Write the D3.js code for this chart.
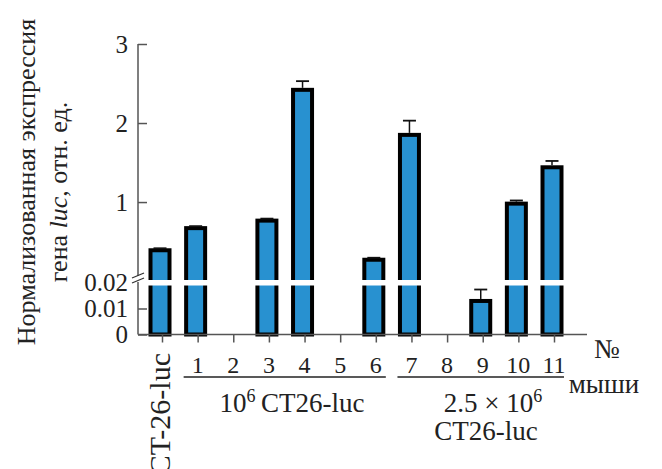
<!DOCTYPE html>
<html>
<head>
<meta charset="utf-8">
<script src="https://cdn.jsdelivr.net/npm/d3@7"></script>
<style>
body { margin: 0; background: #fff; }
text { font-family: "Liberation Serif", "DejaVu Serif", serif; fill: #222; }
</style>
</head>
<body>
<script>
// data
var categories = ["CT-26-luc", "1", "2", "3", "4", "5", "6", "7", "8", "9", "10", "11"];
var values = [0.39, 0.67, 0, 0.765, 2.42, 0, 0.27, 1.85, 0, 0.0129, 0.98, 1.44];
var errors = [0.02, 0.015, 0, 0.012, 0.11, 0, 0.02, 0.18, 0, 0.0044, 0.04, 0.08];
var upperTicks = [1, 2, 3];
var lowerTicks = [0, 0.01, 0.02];
var groups = [
  {first: "1", last: "6"},
  {first: "7", last: "11"}
];

var W = 662, H = 469;
var svg = d3.select("body").append("svg")
  .attr("width", W)
  .attr("height", H);

var axisX = 138, baseY = 334.5, axisRight = 587;
var breakTop = 279.5, breakBottom = 285.5;

// x: one point per mouse
var x = d3.scalePoint()
  .domain(categories)
  .range([162, 554]);

// broken y: two linear pieces
var yUpper = d3.scaleLinear().domain([0.02, 3]).range([breakTop, 44]);
var yLower = d3.scaleLinear().domain([0, 0.02]).range([baseY, 282.5]);
function y(v) {
  return v > 0.02 ? yUpper(v) : yLower(v);
}

var barW = 19;
var barShift = -2; // bars sit a touch left of their ticks

// bars
var bars = svg.append("g").attr("id", "bars");
categories.forEach(function(c, i) {
  if (values[i] <= 0) return;
  var cx = x(c) + barShift;
  bars.append("rect")
    .attr("x", cx - barW / 2)
    .attr("y", y(values[i]))
    .attr("width", barW)
    .attr("height", baseY - y(values[i]))
    .style("fill", "#2891d0")
    .style("stroke", "#000")
    .style("stroke-width", 4);
  // error bar (upper only)
  var top = y(values[i] + errors[i]);
  var bt = y(values[i]) - 2;
  if (bt - top > 0.5) {
    bars.append("line")
      .attr("x1", cx).attr("x2", cx)
      .attr("y1", bt).attr("y2", top)
      .style("stroke", "#111").style("stroke-width", 1.5);
  }
  bars.append("line")
    .attr("x1", cx - 6.5).attr("x2", cx + 6.5)
    .attr("y1", Math.min(top, bt)).attr("y2", Math.min(top, bt))
    .style("stroke", "#111").style("stroke-width", 1.8);
});

// white gap for the axis break
svg.append("rect")
  .attr("x", axisX + 1)
  .attr("y", breakTop + 0.5)
  .attr("width", axisRight - axisX)
  .attr("height", breakBottom - breakTop - 0.5)
  .style("fill", "#fff");

// y axes
var gUp = svg.append("g")
  .attr("transform", "translate(" + axisX + ",0)")
  .call(d3.axisLeft(yUpper).tickValues(upperTicks).tickFormat(d3.format("d"))
    .tickSizeInner(-9).tickSizeOuter(0).tickPadding(10));
var gLow = svg.append("g")
  .attr("transform", "translate(" + axisX + ",0)")
  .call(d3.axisLeft(yLower).tickValues(lowerTicks).tickFormat(function(d) { return d === 0 ? "0" : d3.format(".2f")(d); })
    .tickSizeInner(-9).tickSizeOuter(0).tickPadding(10));
[gUp, gLow].forEach(function(g) {
  g.select(".domain").remove();
  g.selectAll(".tick line").style("stroke", "#555").style("stroke-width", 1.5);
  g.selectAll(".tick text")
    .style("font-family", "Liberation Serif")
    .style("font-size", "25px")
    .style("fill", "#222");
});
gLow.selectAll(".tick").filter(function(d) { return d === 0.02; }).select("line").remove();

svg.append("line")
  .attr("x1", axisX).attr("x2", axisX)
  .attr("y1", 44).attr("y2", baseY)
  .style("stroke", "#555").style("stroke-width", 1.5);

// break marks
svg.append("rect")
  .attr("x", axisX - 5).attr("y", 276)
  .attr("width", 10).attr("height", 6)
  .style("fill", "#fff");
[0, 5].forEach(function(dy) {
  svg.append("line")
    .attr("x1", axisX - 6).attr("y1", 278 + dy)
    .attr("x2", axisX + 6).attr("y2", 273 + dy)
    .style("stroke", "#333").style("stroke-width", 1.3);
});

// x axis
var gx = svg.append("g")
  .attr("transform", "translate(0," + baseY + ")")
  .call(d3.axisBottom(x).tickFormat("").tickSizeInner(8).tickSizeOuter(0));
gx.select(".domain").remove();
gx.selectAll(".tick line").style("stroke", "#555").style("stroke-width", 1.5);
svg.append("line")
  .attr("x1", axisX).attr("x2", axisRight)
  .attr("y1", baseY).attr("y2", baseY)
  .style("stroke", "#555").style("stroke-width", 1.5);

// x labels
categories.forEach(function(c, i) {
  if (i === 0) {
    svg.append("text")
      .attr("transform", "translate(" + (x(c) + 8) + ",353) rotate(-90)")
      .attr("text-anchor", "end")
      .style("font-size", "30px")
      .text(c);
  } else {
    svg.append("text")
      .attr("x", x(c))
      .attr("y", 373)
      .attr("text-anchor", "middle")
      .style("font-size", "24px")
      .text(c);
  }
});

// group underlines
groups.forEach(function(g) {
  svg.append("line")
    .attr("x1", x(g.first) - 14).attr("x2", x(g.last) + 10)
    .attr("y1", 377).attr("y2", 377)
    .style("stroke", "#222").style("stroke-width", 1.3);
});

var t1 = svg.append("text")
  .attr("x", 292).attr("y", 412)
  .attr("text-anchor", "middle")
  .style("font-size", "27px");
t1.append("tspan").text("10");
t1.append("tspan").attr("dy", -10).style("font-size", "18px").text("6");
t1.append("tspan").attr("dy", 10).text("\u2009CT26-luc");

var t2 = svg.append("text")
  .attr("x", 493).attr("y", 412)
  .attr("text-anchor", "middle")
  .style("font-size", "27px");
t2.append("tspan").text("2.5 \u00d7 10");
t2.append("tspan").attr("dy", -10).style("font-size", "18px").text("6");

svg.append("text")
  .attr("x", 486).attr("y", 440)
  .attr("text-anchor", "middle")
  .style("font-size", "27px")
  .text("CT26-luc");

svg.append("text")
  .attr("x", 607).attr("y", 358)
  .attr("text-anchor", "middle")
  .style("font-size", "27px")
  .text("\u2116");
svg.append("text")
  .attr("x", 604).attr("y", 393)
  .attr("text-anchor", "middle")
  .style("font-size", "27px")
  .text("мыши");

// y title
svg.append("text")
  .attr("transform", "translate(35,182) rotate(-90)")
  .attr("text-anchor", "middle")
  .style("font-size", "26px")
  .text("Нормализованная экспрессия");
var yt2 = svg.append("text")
  .attr("transform", "translate(67,192) rotate(-90)")
  .attr("text-anchor", "middle")
  .style("font-size", "26px");
yt2.append("tspan").text("гена ");
yt2.append("tspan").style("font-style", "italic").text("luc");
yt2.append("tspan").text(", отн. ед.");
</script>
</body>
</html>
